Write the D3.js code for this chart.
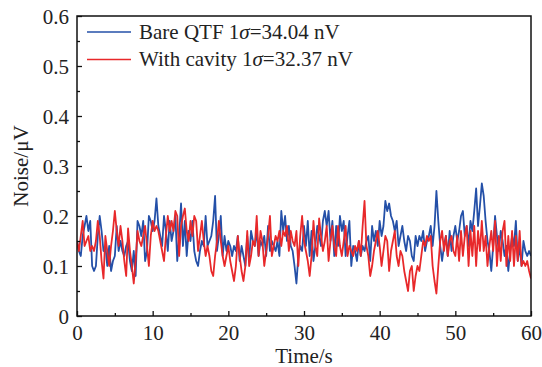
<!DOCTYPE html>
<html>
<head>
<meta charset="utf-8">
<script src="https://cdn.jsdelivr.net/npm/d3@7"></script>
<style>
  body { margin: 0; background: #fff; }
  text { font-family: "Liberation Serif", "Times New Roman", serif; fill: #222; }
</style>
</head>
<body>
<svg id="chart"></svg>
<script>
// samples every 0.25 s, 0..60 s
var step = 0.25;

var bareQTF = [
  0.15, 0.13, 0.12, 0.16,  0.18, 0.20, 0.17, 0.19,  0.10, 0.09, 0.10, 0.16,
  0.20, 0.17, 0.13, 0.14,  0.10, 0.14, 0.09, 0.11,  0.12, 0.18, 0.13, 0.15,
  0.13, 0.12, 0.14, 0.15,  0.11, 0.09, 0.13, 0.08,  0.19, 0.18, 0.16, 0.19,
  0.11, 0.13, 0.20, 0.19,  0.17, 0.19, 0.235, 0.18, 0.16, 0.14, 0.20, 0.17,
  0.13, 0.19, 0.15, 0.17,  0.20, 0.11, 0.16, 0.225, 0.14, 0.19, 0.12, 0.17,
  0.15, 0.19, 0.13, 0.11,  0.10, 0.13, 0.15, 0.14,  0.20, 0.14, 0.15, 0.16,
  0.19, 0.24, 0.13, 0.16,  0.20, 0.12, 0.16, 0.13,  0.15, 0.14, 0.12, 0.14,
  0.13, 0.16, 0.11, 0.14,  0.12, 0.10, 0.16, 0.11,  0.17, 0.15, 0.14, 0.17,
  0.12, 0.15, 0.14, 0.16,  0.12, 0.18, 0.13, 0.15,  0.14, 0.13, 0.15, 0.12,
  0.21, 0.17, 0.20, 0.15,  0.18, 0.14, 0.13, 0.10,  0.065, 0.12, 0.14, 0.13,
  0.18, 0.14, 0.19, 0.12,  0.17, 0.11, 0.14, 0.18,  0.16, 0.14, 0.19, 0.21,
  0.18, 0.21, 0.15, 0.19,  0.12, 0.18, 0.14, 0.20,  0.17, 0.19, 0.12, 0.16,
  0.19, 0.10, 0.14, 0.13,  0.11, 0.15, 0.12, 0.14,  0.13, 0.15, 0.16, 0.11,
  0.18, 0.15, 0.17, 0.14,  0.19, 0.16, 0.18, 0.23,  0.21, 0.225, 0.20, 0.19,
  0.17, 0.19, 0.14, 0.16,  0.18, 0.15, 0.13, 0.16,  0.15, 0.12, 0.11, 0.16,
  0.14, 0.16, 0.15, 0.17,  0.13, 0.15, 0.16, 0.18,  0.14, 0.18, 0.25, 0.19,
  0.14, 0.11, 0.14, 0.16,  0.12, 0.17, 0.13, 0.16,  0.18, 0.15, 0.17, 0.20,
  0.21, 0.16, 0.18, 0.14,  0.19, 0.17, 0.21, 0.255, 0.18, 0.22, 0.265, 0.24,
  0.19, 0.15, 0.13, 0.09,  0.14, 0.20, 0.16, 0.13,  0.17, 0.15, 0.12, 0.14,
  0.09, 0.13, 0.16, 0.14,  0.19, 0.11, 0.14, 0.10,  0.15, 0.13, 0.12, 0.13,
  0.12
];

var withCavity = [
  0.15, 0.13, 0.16, 0.19,  0.14, 0.15, 0.16, 0.13,  0.14, 0.13, 0.15, 0.19,
  0.16, 0.11, 0.075, 0.16, 0.13, 0.10, 0.14, 0.17,  0.21, 0.17, 0.14, 0.18,
  0.15, 0.11, 0.08, 0.175, 0.13, 0.10, 0.065, 0.11, 0.17, 0.15, 0.14, 0.16,
  0.18, 0.14, 0.10, 0.16,  0.19, 0.17, 0.18, 0.17,  0.15, 0.13, 0.11, 0.16,
  0.20, 0.17, 0.19, 0.17,  0.21, 0.20, 0.12, 0.18,  0.20, 0.215, 0.17, 0.15,
  0.19, 0.16, 0.20, 0.19,  0.13, 0.16, 0.19, 0.15,  0.12, 0.14, 0.12, 0.09,
  0.08, 0.12, 0.15, 0.19,  0.15, 0.12, 0.10, 0.12,  0.14, 0.11, 0.09, 0.07,
  0.10, 0.16, 0.12, 0.09,  0.07, 0.10, 0.17, 0.10,  0.12, 0.15, 0.14, 0.20,
  0.12, 0.17, 0.15, 0.10,  0.13, 0.16, 0.20, 0.12,  0.14, 0.16, 0.15, 0.17,
  0.14, 0.17, 0.16, 0.18,  0.13, 0.17, 0.15, 0.14,  0.17, 0.10, 0.16, 0.20,
  0.15, 0.13, 0.11, 0.08,  0.12, 0.19, 0.14, 0.12,  0.195, 0.16, 0.13, 0.15,
  0.18, 0.11, 0.15, 0.18,  0.14, 0.12, 0.18, 0.14,  0.12, 0.15, 0.18, 0.12,
  0.14, 0.13, 0.12, 0.14,  0.13, 0.15, 0.12, 0.18,  0.23, 0.14, 0.12, 0.08,
  0.10, 0.13, 0.15, 0.17,  0.14, 0.10, 0.13, 0.16,  0.15, 0.09, 0.13, 0.15,
  0.17, 0.12, 0.10, 0.13,  0.12, 0.09, 0.07, 0.05,  0.09, 0.10, 0.05, 0.08,
  0.10, 0.09, 0.12, 0.15,  0.14, 0.16, 0.15, 0.16,  0.10, 0.07, 0.045, 0.10,
  0.15, 0.17, 0.13, 0.16,  0.12, 0.15, 0.16, 0.13,  0.12, 0.16, 0.11, 0.17,
  0.12, 0.16, 0.18, 0.10,  0.17, 0.12, 0.18, 0.10,  0.17, 0.13, 0.19, 0.13,
  0.16, 0.10, 0.14, 0.17,  0.13, 0.19, 0.10, 0.16,  0.11, 0.17, 0.19, 0.10,
  0.16, 0.11, 0.17, 0.10,  0.16, 0.11, 0.17, 0.10,  0.11, 0.10, 0.11, 0.09,
  0.075
];

var xTicks = [0, 10, 20, 30, 40, 50, 60];
var yTicks = [0, 0.1, 0.2, 0.3, 0.4, 0.5, 0.6];
var legendLabels = ["Bare QTF 1", "With cavity 1"];
var legendValues = ["=34.04 nV", "=32.37 nV"];
var colors = ["#2450a8", "#e8282a"];

var W = 542, H = 367;
var margin = {left: 77, right: 11, top: 16, bottom: 51};

var svg = d3.select("#chart").attr("width", W).attr("height", H);

var x = d3.scaleLinear().domain([0, 60]).range([margin.left, W - margin.right]);
var y = d3.scaleLinear().domain([0, 0.6]).range([H - margin.bottom, margin.top]);

var line = d3.line()
  .x(function(d, i) { return x(i * step); })
  .y(function(d) { return y(d); });

svg.append("clipPath").attr("id", "clip")
  .append("rect")
  .attr("x", margin.left).attr("y", margin.top)
  .attr("width", W - margin.left - margin.right)
  .attr("height", H - margin.top - margin.bottom);

var plot = svg.append("g").attr("clip-path", "url(#clip)");

[bareQTF, withCavity].forEach(function(s, k) {
  plot.append("path")
    .datum(s)
    .attr("d", line)
    .attr("fill", "none")
    .attr("stroke", colors[k])
    .attr("stroke-width", 1.8)
    .attr("stroke-linejoin", "round");
});

// axes, ticks inward
var xAxis = svg.append("g")
  .attr("transform", "translate(0," + (H - margin.bottom) + ")")
  .call(d3.axisBottom(x).tickValues(xTicks).tickSize(-5).tickPadding(6).tickFormat(d3.format("d")));
svg.append("g")
  .attr("transform", "translate(0," + (H - margin.bottom) + ")")
  .call(d3.axisBottom(x).tickValues([5, 15, 25, 35, 45, 55]).tickSize(-3).tickFormat(""));

var yAxis = svg.append("g")
  .attr("transform", "translate(" + margin.left + ",0)")
  .call(d3.axisLeft(y).tickValues(yTicks).tickSize(-5).tickPadding(8)
    .tickFormat(function(d) { return d === 0 ? "0" : d3.format(".1f")(d); }));
svg.append("g")
  .attr("transform", "translate(" + margin.left + ",0)")
  .call(d3.axisLeft(y).tickValues([0.05, 0.15, 0.25, 0.35, 0.45, 0.55]).tickSize(-3).tickFormat(""));

svg.selectAll(".domain").remove();
svg.selectAll(".tick line").attr("stroke", "#111").attr("stroke-width", 1.3);
svg.selectAll(".tick text")
  .style("font-family", "'Liberation Serif', serif")
  .style("font-size", "21px")
  .attr("fill", "#222");
xAxis.selectAll(".tick text").attr("dy", "0.85em");
yAxis.selectAll(".tick text").attr("dy", "0.34em");

// frame
svg.append("rect")
  .attr("x", margin.left).attr("y", margin.top)
  .attr("width", W - margin.left - margin.right)
  .attr("height", H - margin.top - margin.bottom)
  .attr("fill", "none")
  .attr("stroke", "#111")
  .attr("stroke-width", 1.5);

// axis titles
svg.append("text")
  .attr("x", (margin.left + W - margin.right) / 2)
  .attr("y", 363)
  .attr("text-anchor", "middle")
  .style("font-size", "21px")
  .text("Time/s");

svg.append("text")
  .attr("transform", "translate(28," + ((margin.top + H - margin.bottom) / 2) + ") rotate(-90)")
  .attr("text-anchor", "middle")
  .style("font-size", "21px")
  .text("Noise/\u03bcV");

// legend
var legend = svg.append("g");
legendLabels.forEach(function(lbl, k) {
  var ly = 32 + k * 27.5;
  legend.append("line")
    .attr("x1", 87).attr("x2", 131)
    .attr("y1", ly).attr("y2", ly)
    .attr("stroke", colors[k]).attr("stroke-width", 1.6);
  var t = legend.append("text")
    .attr("x", 139).attr("y", ly + 6.5)
    .style("font-size", "21px");
  t.append("tspan").text(lbl);
  t.append("tspan").style("font-style", "italic").text("\u03c3");
  t.append("tspan").text(legendValues[k]);
});
</script>
</body>
</html>
